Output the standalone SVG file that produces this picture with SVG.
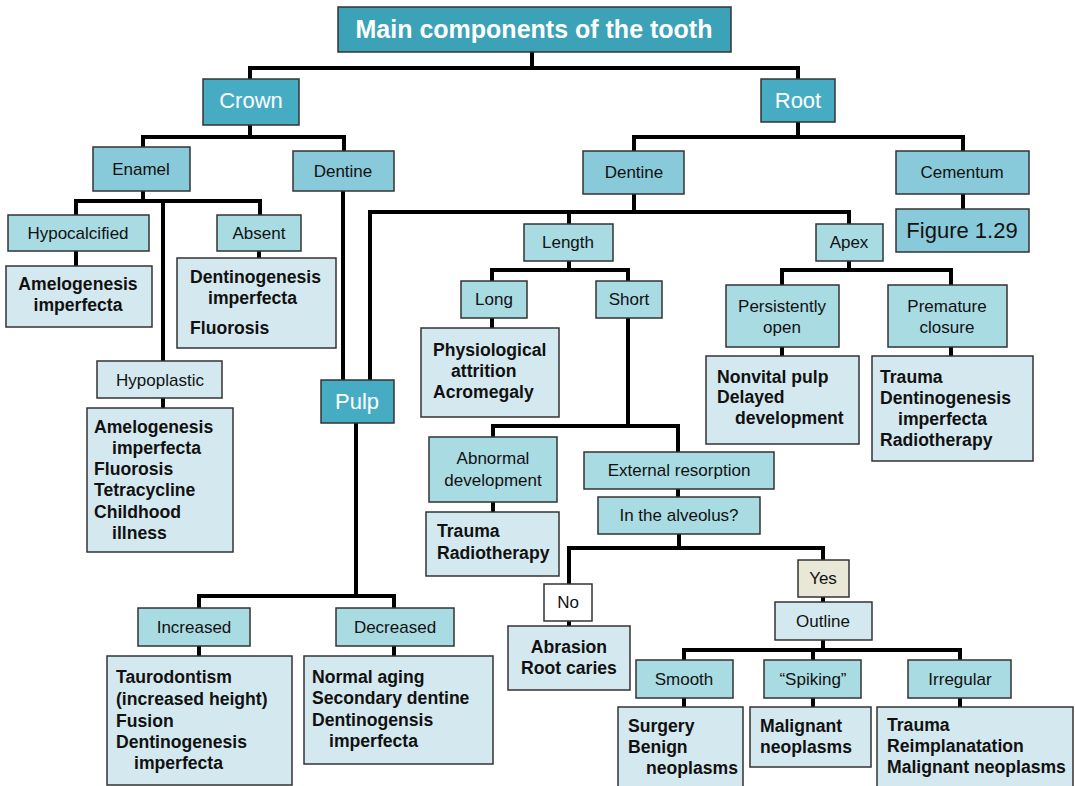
<svg xmlns="http://www.w3.org/2000/svg" width="1075" height="786" viewBox="0 0 1075 786">
<style>
rect{stroke:#333;stroke-width:1.5}
.t0{fill:#3ba2b8}
.t1{fill:#46acc4}
.t2{fill:#88cad9}
.t3{fill:#a9dbe3}
.t4{fill:#d4e9ef}
.yes{fill:#e9e7d6}
.no{fill:#fff}
text{font-family:"Liberation Sans",Arial,sans-serif;font-size:17px;fill:#111}
.c{text-anchor:middle}
.w{fill:#fff;font-size:22px}
.title{fill:#fff;font-size:25px;font-weight:bold}
.b{font-weight:bold;font-size:17.6px}
.fig{font-size:22px}
#connectors path{fill:none;stroke:#000;stroke-width:4;stroke-linejoin:miter;stroke-linecap:butt}
</style>
<g id="connectors">
<path d="M532,52V68M250,79V68H798V79"/>
<path d="M250,125V137M143,147V137H344V151"/>
<path d="M798,122V137M634,151V137H963V151"/>
<path d="M963,194V209"/>
<path d="M143,191V201M76,215V201H260V215M163,201V361"/>
<path d="M76,251V266M259,251V258M163,398V408"/>
<path d="M343,191V380"/>
<path d="M634,194V212M370,380V212H849V224M569,212V224"/>
<path d="M569,261V270M492,281V270H628V281M492,318V328M628,318V426M493,437V426H678V452"/>
<path d="M849,261V270M782,285V270H951V285M782,347V356M951,347V356"/>
<path d="M493,502V512"/>
<path d="M678,489V497M679,534V548M569,584V548H823V560M569,621V626M823,597V602"/>
<path d="M823,640V650M684,660V650H960V660M813,650V660M684,698V707M813,698V707M960,698V707"/>
<path d="M356,423V596M199,608V596H394V608M199,646V656M394,646V656"/>
</g>
<g id="title"><rect class="t0" x="338" y="7" width="393" height="45"/><text class="title c" x="534" y="38">Main components of the tooth</text></g>
<g id="crown"><rect class="t1" x="203" y="79" width="96" height="46"/><text class="w c" x="251" y="108">Crown</text></g>
<g id="root"><rect class="t1" x="761" y="79" width="74" height="43"/><text class="w c" x="798" y="108">Root</text></g>
<g id="enamel"><rect class="t2" x="93" y="147" width="97" height="44"/><text class="c" x="141" y="175">Enamel</text></g>
<g id="dentine-crown"><rect class="t2" x="293" y="151" width="101" height="40"/><text class="c" x="343" y="177">Dentine</text></g>
<g id="dentine-root"><rect class="t2" x="583" y="151" width="101" height="43"/><text class="c" x="634" y="178">Dentine</text></g>
<g id="cementum"><rect class="t2" x="896" y="151" width="133" height="43"/><text class="c" x="962" y="178">Cementum</text></g>
<g id="figure"><rect class="t2" x="896" y="209" width="133" height="43"/><text class="fig c" x="962" y="238">Figure 1.29</text></g>
<g id="hypocalcified"><rect class="t3" x="8" y="215" width="141" height="36"/><text class="c" x="78" y="239">Hypocalcified</text></g>
<g id="hypocalcified-res"><rect class="t4" x="6" y="266" width="146" height="61"/><text class="b c" x="78" y="290">Amelogenesis</text><text class="b c" x="78" y="311">imperfecta</text></g>
<g id="absent"><rect class="t3" x="217" y="215" width="84" height="36"/><text class="c" x="259" y="239">Absent</text></g>
<g id="absent-res"><rect class="t4" x="177" y="258" width="159" height="90"/><text class="b" x="190" y="283">Dentinogenesis</text><text class="b" x="208" y="304">imperfecta</text><text class="b" x="190" y="334">Fluorosis</text></g>
<g id="hypoplastic"><rect class="t4" x="97" y="361" width="125" height="37"/><text class="c" x="160" y="386">Hypoplastic</text></g>
<g id="hypoplastic-res"><rect class="t4" x="87" y="408" width="146" height="144"/><text class="b" x="94" y="433">Amelogenesis</text><text class="b" x="112" y="454">imperfecta</text><text class="b" x="94" y="475">Fluorosis</text><text class="b" x="94" y="496">Tetracycline</text><text class="b" x="94" y="518">Childhood</text><text class="b" x="112" y="539">illness</text></g>
<g id="pulp"><rect class="t1" x="321" y="380" width="73" height="43"/><text class="w c" x="357" y="409">Pulp</text></g>
<g id="increased"><rect class="t3" x="138" y="608" width="112" height="38"/><text class="c" x="194" y="633">Increased</text></g>
<g id="increased-res"><rect class="t4" x="107" y="656" width="185" height="129"/><text class="b" x="116" y="683">Taurodontism</text><text class="b" x="116" y="705">(increased height)</text><text class="b" x="116" y="727">Fusion</text><text class="b" x="116" y="748">Dentinogenesis</text><text class="b" x="134" y="769">imperfecta</text></g>
<g id="decreased"><rect class="t3" x="336" y="608" width="118" height="38"/><text class="c" x="395" y="633">Decreased</text></g>
<g id="decreased-res"><rect class="t4" x="304" y="656" width="189" height="108"/><text class="b" x="312" y="683">Normal aging</text><text class="b" x="312" y="704">Secondary dentine</text><text class="b" x="312" y="726">Dentinogensis</text><text class="b" x="329" y="747">imperfecta</text></g>
<g id="length"><rect class="t3" x="524" y="224" width="89" height="37"/><text class="c" x="568" y="248">Length</text></g>
<g id="apex"><rect class="t3" x="816" y="224" width="67" height="37"/><text class="c" x="849" y="248">Apex</text></g>
<g id="long"><rect class="t3" x="461" y="281" width="66" height="37"/><text class="c" x="494" y="305">Long</text></g>
<g id="long-res"><rect class="t4" x="421" y="328" width="138" height="89"/><text class="b" x="433" y="356">Physiological</text><text class="b" x="451" y="377">attrition</text><text class="b" x="433" y="398">Acromegaly</text></g>
<g id="short"><rect class="t3" x="596" y="281" width="66" height="37"/><text class="c" x="629" y="305">Short</text></g>
<g id="persistently-open"><rect class="t3" x="726" y="285" width="113" height="62"/><text class="c" x="782" y="312">Persistently</text><text class="c" x="782" y="333">open</text></g>
<g id="persistently-open-res"><rect class="t4" x="706" y="356" width="153" height="88"/><text class="b" x="717" y="383">Nonvital pulp</text><text class="b" x="717" y="403">Delayed</text><text class="b" x="735" y="424">development</text></g>
<g id="premature-closure"><rect class="t3" x="888" y="285" width="119" height="62"/><text class="c" x="947" y="312">Premature</text><text class="c" x="947" y="333">closure</text></g>
<g id="premature-closure-res"><rect class="t4" x="872" y="356" width="161" height="105"/><text class="b" x="880" y="383">Trauma</text><text class="b" x="880" y="404">Dentinogenesis</text><text class="b" x="898" y="425">imperfecta</text><text class="b" x="880" y="446">Radiotherapy</text></g>
<g id="abnormal-development"><rect class="t3" x="429" y="437" width="128" height="65"/><text class="c" x="493" y="464">Abnormal</text><text class="c" x="493" y="486">development</text></g>
<g id="abnormal-development-res"><rect class="t4" x="426" y="512" width="133" height="64"/><text class="b" x="437" y="537">Trauma</text><text class="b" x="437" y="559">Radiotherapy</text></g>
<g id="external-resorption"><rect class="t3" x="584" y="452" width="190" height="37"/><text class="c" x="679" y="476">External resorption</text></g>
<g id="in-the-alveolus"><rect class="t3" x="598" y="497" width="162" height="37"/><text class="c" x="679" y="521">In the alveolus?</text></g>
<g id="no"><rect class="no" x="544" y="584" width="48" height="37"/><text class="c" x="568" y="608">No</text></g>
<g id="no-res"><rect class="t4" x="508" y="626" width="122" height="64"/><text class="b c" x="569" y="653">Abrasion</text><text class="b c" x="569" y="674">Root caries</text></g>
<g id="yes"><rect class="yes" x="798" y="560" width="51" height="37"/><text class="c" x="823" y="584">Yes</text></g>
<g id="outline"><rect class="t4" x="775" y="602" width="97" height="38"/><text class="c" x="823" y="627">Outline</text></g>
<g id="smooth"><rect class="t3" x="636" y="660" width="97" height="38"/><text class="c" x="684" y="685">Smooth</text></g>
<g id="smooth-res"><rect class="t4" x="618" y="707" width="125" height="82"/><text class="b" x="628" y="732">Surgery</text><text class="b" x="628" y="753">Benign</text><text class="b" x="646" y="774">neoplasms</text></g>
<g id="spiking"><rect class="t3" x="764" y="660" width="97" height="38"/><text class="c" x="813" y="685">“Spiking”</text></g>
<g id="spiking-res"><rect class="t4" x="750" y="707" width="121" height="60"/><text class="b" x="760" y="732">Malignant</text><text class="b" x="760" y="753">neoplasms</text></g>
<g id="irregular"><rect class="t3" x="908" y="660" width="103" height="38"/><text class="c" x="960" y="685">Irregular</text></g>
<g id="irregular-res"><rect class="t4" x="877" y="707" width="196" height="82"/><text class="b" x="887" y="731">Trauma</text><text class="b" x="887" y="752">Reimplanatation</text><text class="b" x="887" y="773">Malignant neoplasms</text></g>
</svg>
